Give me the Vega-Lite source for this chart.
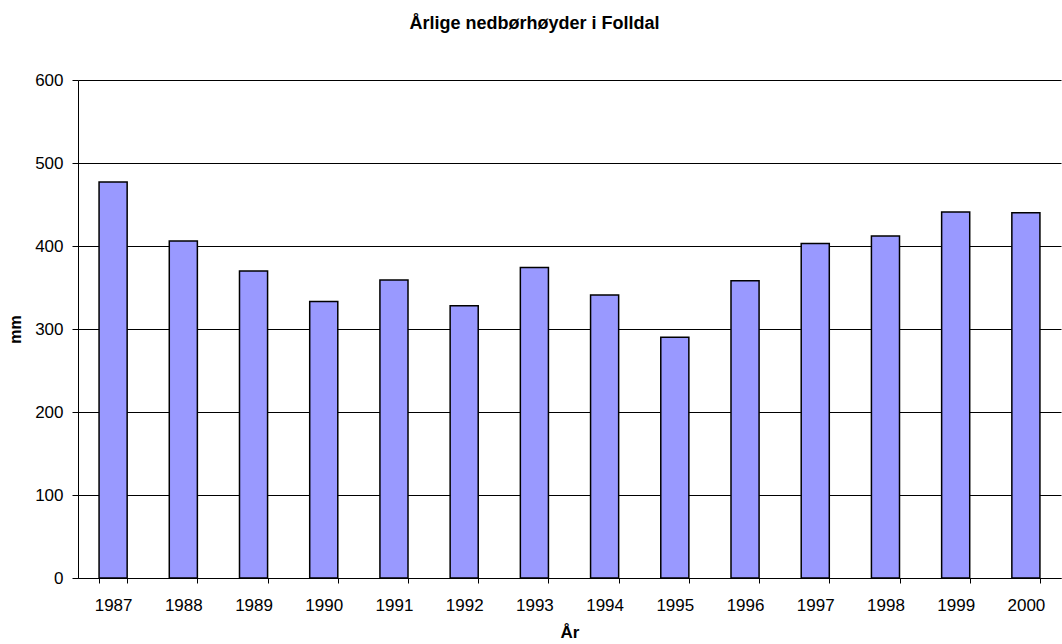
{
  "$schema": "https://vega.github.io/schema/vega-lite/v6.json",
  "width": 983,
  "height": 498,
  "autosize": {"type": "none"},
  "padding": {"left": 78, "top": 80, "right": 1, "bottom": 66},
  "background": "white",
  "title": {
    "text": "Årlige nedbørhøyder i Folldal",
    "font": "Liberation Sans",
    "fontSize": 18,
    "fontWeight": "bold",
    "color": "black",
    "anchor": "middle",
    "dx": -35,
    "offset": 38
  },
  "data": {
    "values": [
      {"year": "1987", "mm": 477},
      {"year": "1988", "mm": 406},
      {"year": "1989", "mm": 370},
      {"year": "1990", "mm": 333},
      {"year": "1991", "mm": 359},
      {"year": "1992", "mm": 328},
      {"year": "1993", "mm": 374},
      {"year": "1994", "mm": 341},
      {"year": "1995", "mm": 290},
      {"year": "1996", "mm": 358},
      {"year": "1997", "mm": 403},
      {"year": "1998", "mm": 412},
      {"year": "1999", "mm": 441},
      {"year": "2000", "mm": 440}
    ]
  },
  "mark": {"type": "bar", "color": "#9999FF", "stroke": "black", "strokeWidth": 1.5},
  "encoding": {
    "x": {
      "field": "year",
      "type": "ordinal",
      "scale": {"paddingInner": 0.6, "paddingOuter": 0.3},
      "axis": {
        "title": "År",
        "titleFont": "Liberation Sans",
        "titleFontSize": 17,
        "titleFontWeight": "bold",
        "titleColor": "black",
        "titlePadding": 11,
        "labelAngle": 0,
        "labelFont": "Liberation Sans",
        "labelFontSize": 17,
        "labelColor": "black",
        "labelPadding": 14,
        "tickBand": "extent",
        "tickColor": "black",
        "tickSize": 5,
        "domainColor": "black",
        "grid": false
      }
    },
    "y": {
      "field": "mm",
      "type": "quantitative",
      "scale": {"domain": [0, 600], "nice": false},
      "axis": {
        "title": "mm",
        "titleFont": "Liberation Sans",
        "titleFontSize": 16,
        "titleFontWeight": "bold",
        "titleColor": "black",
        "titlePadding": 11,
        "values": [0, 100, 200, 300, 400, 500, 600],
        "labelFont": "Liberation Sans",
        "labelFontSize": 17,
        "labelColor": "black",
        "labelPadding": 9,
        "tickColor": "black",
        "tickSize": 6,
        "domainColor": "black",
        "grid": true,
        "gridColor": "black",
        "gridOpacity": 1
      }
    }
  },
  "config": {"view": {"stroke": null}}
}
